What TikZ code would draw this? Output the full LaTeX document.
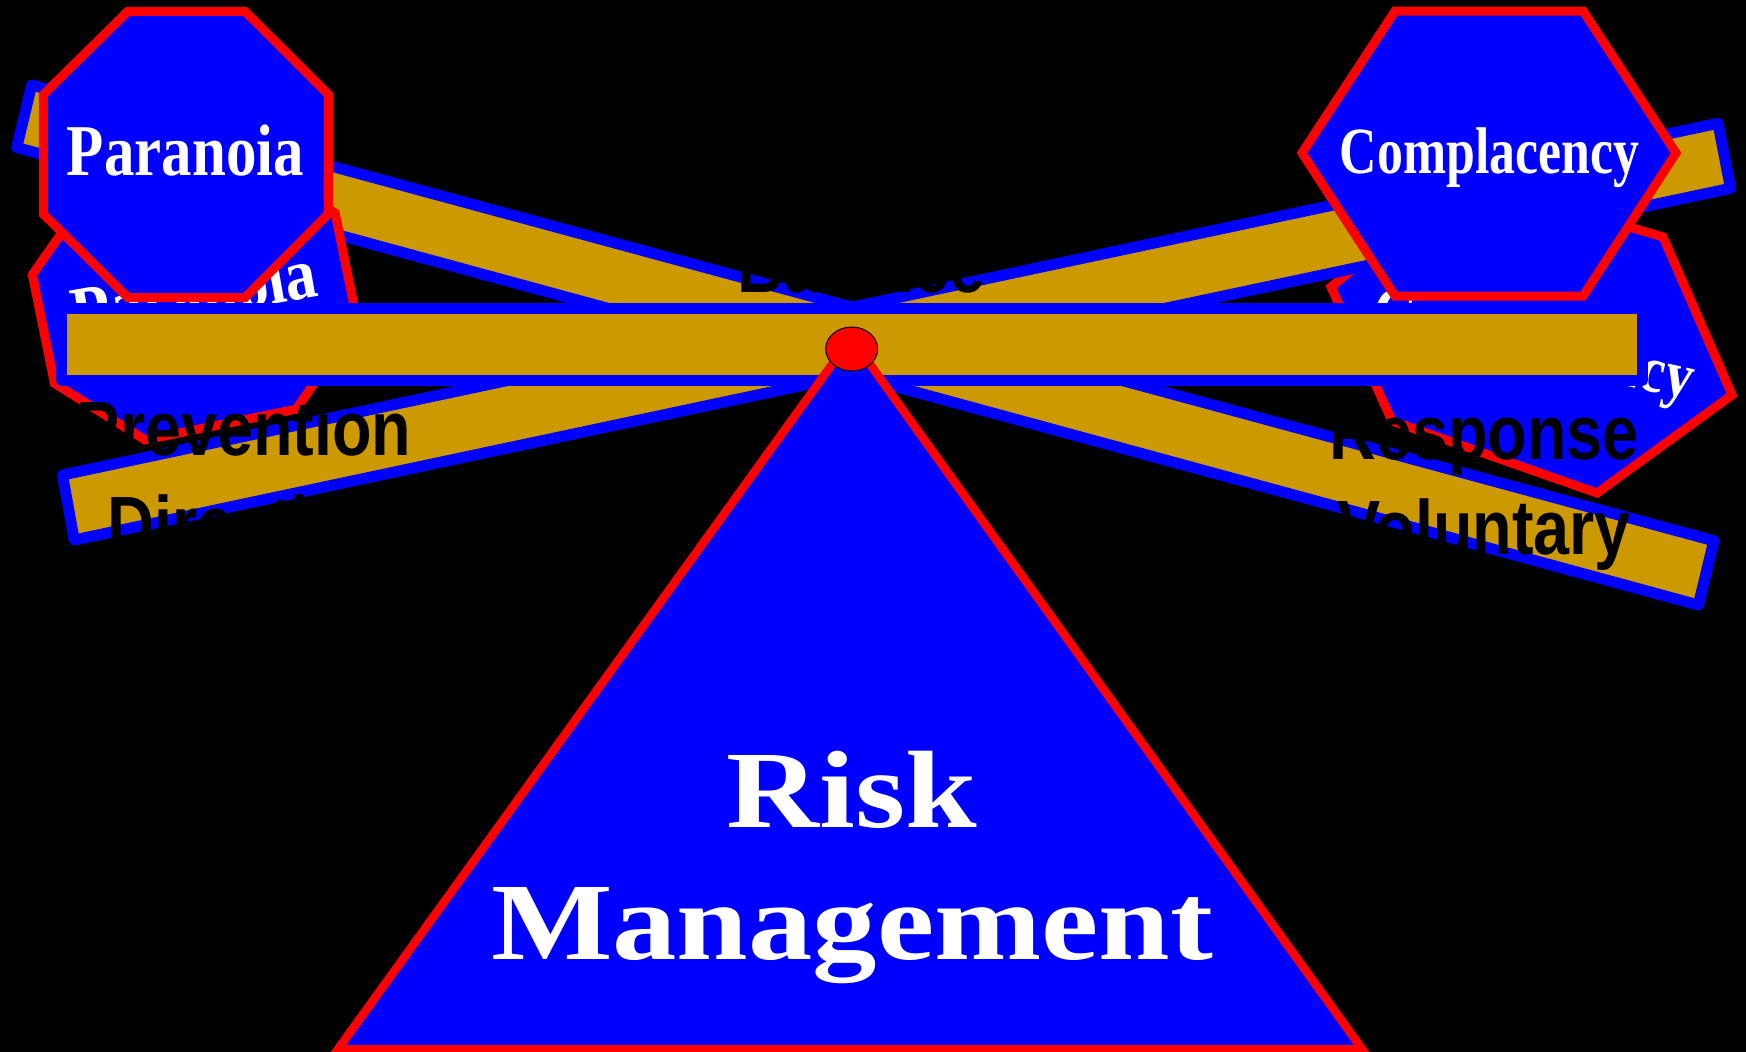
\documentclass[tikz,border=0pt]{standalone}
\usepackage{fontspec}
\setmainfont{Liberation Serif}
\newfontfamily\barfont{Liberation Sans}[FakeStretch=0.84]
\definecolor{gold}{RGB}{204,153,0}

\begin{document}
\begin{tikzpicture}[x=1pt,y=-1pt]
  \tikzset{beam/.style={draw=blue,fill=gold,line width=11pt,line join=round},
    sign/.style={draw=red,fill=blue,line width=9pt},
    signtext/.style={text=white,inner sep=0pt},
    word/.style={font=\barfont\bfseries\fontsize{77}{95}\selectfont,align=center,inner sep=0pt}};
  \useasboundingbox (0,0) rectangle (1746,1052);
  \fill[black] (0,0) rectangle (1746,1052);
  % tipped to the right
  \draw[beam] (31.7,85) -- (1713.8,540.8) -- (1698.3,605) -- (16.7,147.5) -- cycle;
  \draw[sign] (1331,287) -- (1464,178) -- (1663,237) -- (1732,395) -- (1597,493) -- (1392,421) -- cycle;
  \node[signtext,rotate=-12.6,xscale=0.86,anchor=base,font=\bfseries\fontsize{66}{79}\selectfont] (com2) at (1529,364) {Complacency};
  % tipped to the left
  \draw[beam] (62.5,475) -- (1718,123.3) -- (1730.5,188.3) -- (74.2,540) -- cycle;
  \begin{scope}[shift={(194.8,298.2)},rotate=11.5]
    \draw[sign] (-77,-129) -- (77,-129) -- (154.5,-55.5) -- (154.5,55.5) -- (77,129) -- (-77,129) -- (-154.5,55.5) -- (-154.5,-55.5) -- cycle;
  \end{scope}
  \node[signtext,rotate=10,xscale=0.87,anchor=base,font=\bfseries\fontsize{73}{88}\selectfont] (par2) at (198.4,317) {Paranoia};
  % level
  \draw[beam] (61.5,308.5) rectangle (1642.5,380.5);
  \node[word,anchor=base] (bal) at (861.5,292) {Balance};
  \node[word] (prev) at (244,475) {Prevention\\Directive};
  \node[word] (resp) at (1484,488) {Response\\Voluntary};
  % signs on top
  \draw[sign] (127.7,11.4) -- (245,11.4) -- (328.3,94.6) -- (328.3,214) -- (245,297.5) -- (127.7,297.5) -- (43.3,214) -- (43.3,94.6) -- cycle;
  \node[signtext,xscale=0.835,anchor=base,font=\bfseries\fontsize{73}{88}\selectfont] (par) at (185.5,175) {Paranoia};
  \draw[sign] (1395,11) -- (1583,11) -- (1676,153) -- (1583,296) -- (1395,296) -- (1302,153) -- cycle;
  \node[signtext,xscale=0.785,anchor=base,font=\bfseries\fontsize{66}{79}\selectfont] (com) at (1489.5,173.3) {Complacency};
  % fulcrum
  \draw[red,fill=blue,line width=8.5pt] (851,338) -- (1362,1049) -- (338,1049) -- cycle;
  \node[signtext,align=center,xscale=1.17,font=\bfseries\fontsize{110}{132}\selectfont] (risk) at (852,867.5) {Risk\\Management};
  \draw[fill=red,line width=1pt] (851.7,349) ellipse [x radius=26pt,y radius=22pt];
\end{tikzpicture}
\end{document}
